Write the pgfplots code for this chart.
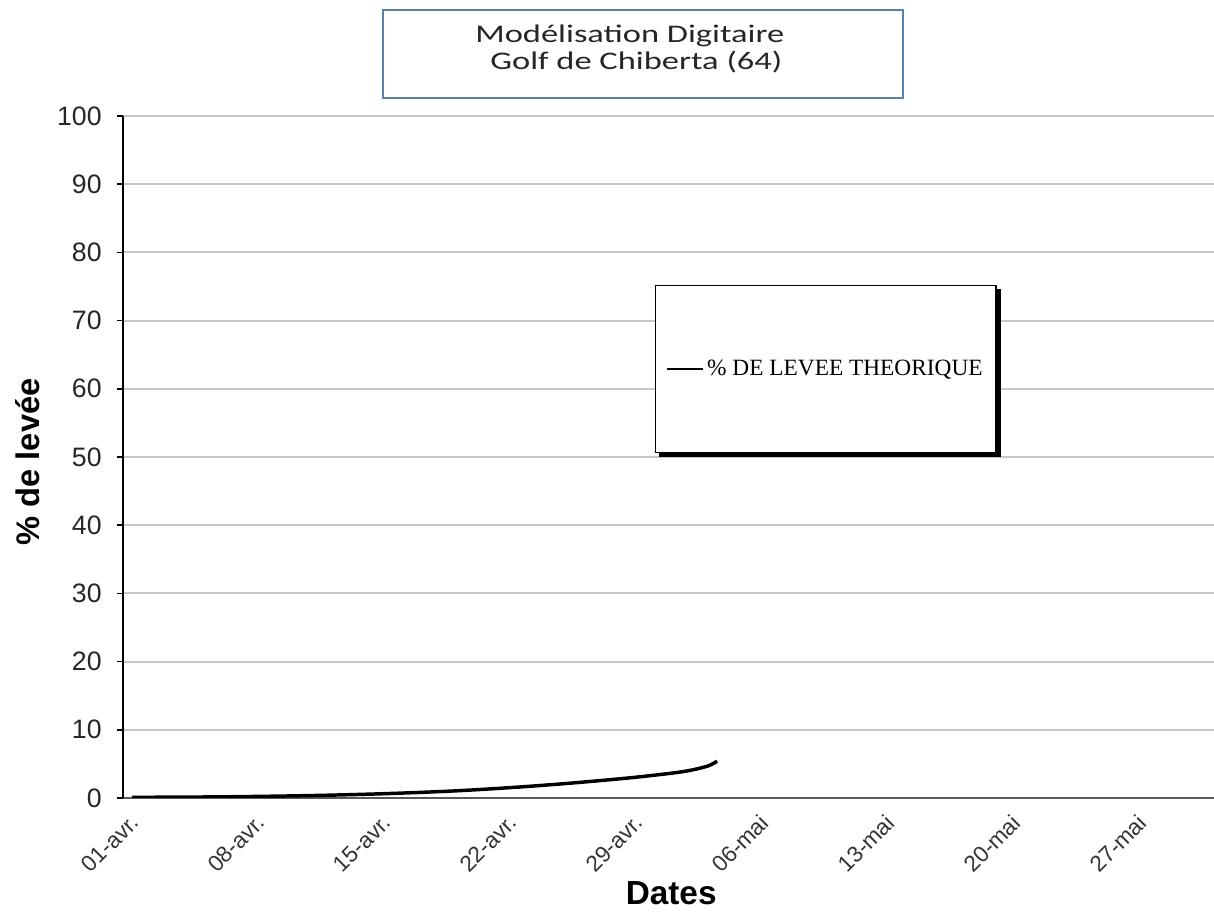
\documentclass[border=0pt]{standalone}
\usepackage{pgfplots}
\pgfplotsset{compat=1.18}
\usepackage{fontspec}
\setmainfont{Liberation Sans}
\newfontfamily\carlito{Carlito}
\newfontfamily\timesf{Liberation Serif}
\definecolor{cadre}{RGB}{88,130,172}

% courbe de levee theorique (jours depuis le 01-avr., %)
\pgfplotstableread{
jour levee
0    0.10
2    0.12
4    0.15
6    0.20
8    0.27
10   0.36
12   0.48
14   0.63
16   0.82
18   1.05
20   1.35
22   1.70
24   2.10
26   2.55
28   3.05
30   3.65
31   4.05
32   4.70
32.5 5.40
}\levee

\begin{document}
\begin{tikzpicture}[x=0.75pt,y=0.75pt]

\begin{axis}[
at={(0,0)}, anchor=south west,
scale only axis,
width=818.25pt, height=511.5pt,
xmin=-0.5, xmax=60.1,
ymin=0, ymax=100,
axis lines=left,
axis line style={-},
x axis line style={draw=black!65, line width=2pt},
y axis line style={draw=black, line width=1.3pt},
ytick={0,10,...,100},
ymajorgrids,
major grid style={line width=1.6pt, draw=black!22},
tick align=outside,
major tick length=4.5pt,
x tick style={draw=none},
y tick style={black, line width=1.3pt},
xtick={0,7,...,56},
xticklabels={01-avr.,08-avr.,15-avr.,22-avr.,29-avr.,06-mai,13-mai,20-mai,27-mai},
x tick label style={xshift=2pt, yshift=-11pt, rotate=45, anchor=east, inner sep=0pt, font=\fontsize{17pt}{19pt}\selectfont, text=black!80},
y tick label style={font=\fontsize{20pt}{23pt}\selectfont, xshift=-8pt, text=black!85},
/pgf/number format/assume math mode=true,
xlabel={Dates},
xlabel style={font=\bfseries\fontsize{25pt}{28pt}\selectfont, at={(axis description cs:0.5,0)}, anchor=base, inner sep=0pt, xshift=2pt, yshift=-80pt},
ylabel={\% de levée},
ylabel style={font=\bfseries\fontsize{24.5pt}{27pt}\selectfont, at={(axis description cs:-0.0871,0.4927)}, anchor=center},
legend style={at={(0.4876,0.752)}, anchor=north west, name=leg,
  draw=black, line width=0.8pt, fill=white,
  inner xsep=8pt, inner ysep=54pt,
  font=\timesf\fontsize{17.5pt}{19pt}\selectfont},
legend cell align=left,
legend image code/.code={\draw[line width=1.8pt, black] (0pt,0pt) -- (27pt,0pt);},
]

\addplot [black, line width=2.6pt, smooth] table [x=jour, y=levee] {\levee};
\addlegendentry{\% DE LEVEE THEORIQUE}

\end{axis}

% ombre de la legende
\fill[black] ([xshift=3pt,yshift=-3pt]leg.south west) rectangle ([xshift=3pt]leg.south east);
\fill[black] ([yshift=-3pt]leg.north east) rectangle ([xshift=3pt,yshift=-3pt]leg.south east);

% titre
\draw[draw=cadre, line width=1.5pt] (260,700) rectangle (780,788);
\node[anchor=base west, inner sep=0pt, xscale=1.36, transform shape, font=\carlito\fontsize{19pt}{22pt}\selectfont, text=black!85] at (352,755) {Modélisation Digitaire};
\node[anchor=base west, inner sep=0pt, xscale=1.36, transform shape, font=\carlito\fontsize{19pt}{22pt}\selectfont, text=black!85] at (367,728) {Golf de Chiberta (64)};

\pgfresetboundingbox
\path[use as bounding box] (-123,-119) rectangle (1091,798);
\end{tikzpicture}
\end{document}
